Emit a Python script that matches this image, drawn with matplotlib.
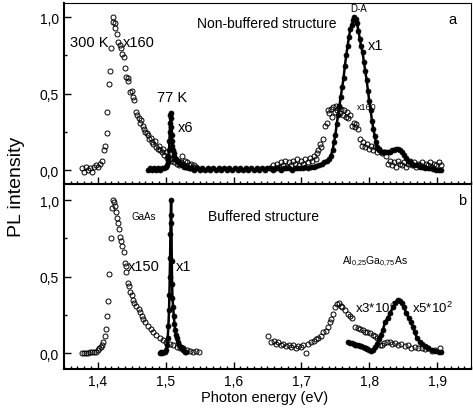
import matplotlib
matplotlib.use('Agg')
import matplotlib.pyplot as plt
from matplotlib.ticker import MultipleLocator, FuncFormatter

plt.rcParams['font.family'] = ['Liberation Sans', 'DejaVu Sans']
plt.rcParams['mathtext.default'] = 'regular'

# ---- panel a: non-buffered structure ----
# 300 K, GaAs band edge (x160), open circles
a300_E = [1.376, 1.379, 1.382, 1.385, 1.388, 1.391, 1.394, 1.397, 1.400, 1.403,
          1.406, 1.409, 1.410, 1.413, 1.414, 1.416, 1.418, 1.419, 1.422, 1.423,
          1.425, 1.426, 1.428, 1.430, 1.432, 1.434, 1.436, 1.438, 1.440, 1.442,
          1.444, 1.445, 1.448, 1.450, 1.452, 1.454, 1.456, 1.458, 1.460, 1.462,
          1.464, 1.466, 1.468, 1.470, 1.472, 1.474, 1.476, 1.478, 1.480, 1.482,
          1.484, 1.486, 1.488, 1.490, 1.492, 1.494, 1.496, 1.498, 1.500, 1.502,
          1.504, 1.506, 1.508, 1.510, 1.512, 1.514, 1.516, 1.518, 1.520, 1.522,
          1.524, 1.526, 1.528, 1.530, 1.532, 1.534, 1.536, 1.538, 1.540, 1.542,
          1.545]
a300_I = [0.01, -0.01, 0.02, 0.00, 0.01, -0.01, 0.02, 0.03, 0.02, 0.04,
          0.06, 0.13, 0.16, 0.24, 0.38, 0.56, 0.65, 0.80, 0.97, 1.00,
          0.96, 0.93, 0.89, 0.84, 0.82, 0.80, 0.76, 0.74, 0.67, 0.61,
          0.58, 0.60, 0.51, 0.52, 0.48, 0.46, 0.38, 0.36, 0.34, 0.31,
          0.33, 0.29, 0.27, 0.25, 0.24, 0.23, 0.20, 0.21, 0.18, 0.17,
          0.19, 0.15, 0.14, 0.16, 0.13, 0.12, 0.14, 0.10, 0.12, 0.08,
          0.09, 0.07, 0.06, 0.08, 0.05, 0.07, 0.04, 0.06, 0.03, 0.05,
          0.09, 0.04, 0.06, 0.02, 0.05, 0.03, 0.01, 0.04, 0.02, 0.03,
          0.02]

# 77 K, GaAs (x6) and D-A band (x1), filled dots
a77_E = [1.474, 1.477, 1.480, 1.483, 1.486, 1.489, 1.492, 1.495, 1.498, 1.500,
         1.502, 1.503, 1.504, 1.505, 1.5055, 1.506, 1.5065, 1.507, 1.5075, 1.508,
         1.5085, 1.509, 1.5095, 1.510, 1.511, 1.512, 1.513, 1.515, 1.517, 1.519,
         1.521, 1.524, 1.527, 1.530, 1.534, 1.538, 1.542, 1.546, 1.550, 1.554,
         1.558, 1.562, 1.566, 1.570, 1.574, 1.578, 1.582, 1.586, 1.590, 1.594,
         1.598, 1.602, 1.606, 1.610, 1.614, 1.618, 1.622, 1.626, 1.630, 1.634,
         1.638, 1.642, 1.646, 1.650, 1.654, 1.658, 1.662, 1.666, 1.670, 1.674,
         1.678, 1.682, 1.686, 1.690, 1.694, 1.698, 1.702, 1.706, 1.710, 1.714,
         1.718, 1.722, 1.726, 1.730, 1.734, 1.738, 1.741, 1.743, 1.746, 1.748,
         1.750, 1.752, 1.754, 1.756, 1.758, 1.760, 1.762, 1.764, 1.766, 1.768,
         1.770, 1.772, 1.774, 1.776, 1.778, 1.780, 1.782, 1.784, 1.786, 1.788,
         1.790, 1.792, 1.794, 1.796, 1.798, 1.800, 1.802, 1.804, 1.806, 1.808,
         1.810, 1.812, 1.815, 1.818, 1.821, 1.824, 1.827, 1.830, 1.833, 1.836,
         1.839, 1.842, 1.845, 1.848, 1.851, 1.854, 1.857, 1.860, 1.863, 1.866,
         1.870, 1.874, 1.878, 1.882, 1.886, 1.890, 1.894, 1.898, 1.902, 1.906]
a77_I = [0.00, 0.01, 0.00, 0.01, 0.00, 0.01, 0.00, 0.01, 0.01, 0.02,
         0.03, 0.05, 0.08, 0.13, 0.19, 0.25, 0.31, 0.36, 0.37, 0.34,
         0.28, 0.23, 0.19, 0.16, 0.13, 0.11, 0.09, 0.07, 0.06, 0.05,
         0.04, 0.03, 0.02, 0.02, 0.01, 0.01, 0.00, 0.01, 0.00, 0.01,
         0.00, 0.01, 0.00, 0.01, 0.00, 0.01, 0.00, 0.01, 0.00, 0.01,
         0.00, 0.01, 0.00, 0.01, 0.00, 0.01, 0.00, 0.01, 0.00, 0.01,
         0.00, 0.01, 0.00, 0.01, 0.01, 0.00, 0.01, 0.01, 0.00, 0.01,
         0.01, 0.01, 0.00, 0.01, 0.01, 0.01, 0.01, 0.02, 0.015, 0.02,
         0.02, 0.025, 0.03, 0.04, 0.05, 0.06, 0.07, 0.09, 0.13, 0.18,
         0.23, 0.30, 0.36, 0.42, 0.48, 0.54, 0.60, 0.68, 0.75, 0.81,
         0.87, 0.92, 0.95, 0.98, 1.00, 0.99, 0.96, 0.91, 0.86, 0.81,
         0.77, 0.71, 0.65, 0.59, 0.52, 0.45, 0.39, 0.32, 0.27, 0.22,
         0.18, 0.15, 0.13, 0.12, 0.12, 0.12, 0.12, 0.12, 0.13, 0.13,
         0.14, 0.14, 0.13, 0.12, 0.10, 0.08, 0.06, 0.05, 0.04, 0.03,
         0.03, 0.02, 0.02, 0.01, 0.01, 0.01, 0.005, 0.00, 0.00, 0.00]

# 300 K, D-A region (x160), open circles
aDA_E = [1.654, 1.658, 1.661, 1.664, 1.667, 1.670, 1.673, 1.676, 1.679, 1.682,
         1.685, 1.688, 1.691, 1.694, 1.697, 1.700, 1.703, 1.706, 1.709, 1.712,
         1.715, 1.718, 1.721, 1.723, 1.725, 1.727, 1.729, 1.732, 1.735, 1.737,
         1.739, 1.741, 1.743, 1.745, 1.747, 1.749, 1.751, 1.753, 1.755, 1.757,
         1.759, 1.761, 1.763, 1.765, 1.767, 1.769, 1.771, 1.774, 1.777, 1.779,
         1.781, 1.784, 1.786, 1.789, 1.791, 1.794, 1.797, 1.800, 1.803, 1.806,
         1.809, 1.812, 1.815, 1.818, 1.821, 1.824, 1.827, 1.830, 1.833, 1.836,
         1.839, 1.842, 1.845, 1.848, 1.851, 1.854, 1.857, 1.860, 1.863, 1.866,
         1.869, 1.872, 1.875, 1.878, 1.881, 1.884, 1.887, 1.890, 1.893, 1.896,
         1.899, 1.902, 1.905]
aDA_I = [0.01, 0.03, 0.01, 0.04, 0.02, 0.05, 0.03, 0.06, 0.02, 0.05,
         0.03, 0.06, 0.04, 0.07, 0.03, 0.06, 0.04, 0.07, 0.05, 0.08,
         0.06, 0.09, 0.07, 0.11, 0.13, 0.17, 0.15, 0.20, 0.29, 0.31,
         0.39, 0.37, 0.40, 0.35, 0.41, 0.38, 0.42, 0.39, 0.41, 0.37,
         0.40, 0.36, 0.39, 0.35, 0.38, 0.34, 0.36, 0.29, 0.31, 0.28,
         0.30, 0.27, 0.20, 0.16, 0.18, 0.15, 0.17, 0.14, 0.16, 0.13,
         0.15, 0.12, 0.14, 0.11, 0.12, 0.09, 0.04, 0.06, 0.03, 0.05,
         0.02, 0.06, 0.04, 0.03, 0.05, 0.02, 0.04, 0.06, 0.03, 0.05,
         0.02, 0.04, 0.03, 0.05, 0.02, 0.04, 0.03, 0.05, 0.02, 0.04,
         0.03, 0.05, 0.03]

# ---- panel b: buffered structure ----
# GaAs x150, open circles
bG_E = [1.376, 1.379, 1.382, 1.385, 1.388, 1.391, 1.394, 1.397, 1.400, 1.402,
        1.404, 1.406, 1.408, 1.410, 1.412, 1.413, 1.415, 1.417, 1.419, 1.421,
        1.423, 1.424, 1.425, 1.427, 1.428, 1.430, 1.431, 1.433, 1.434, 1.436,
        1.438, 1.440, 1.441, 1.442, 1.444, 1.446, 1.448, 1.450, 1.452, 1.454,
        1.457, 1.460, 1.462, 1.465, 1.467, 1.470, 1.474, 1.478, 1.482, 1.486,
        1.491, 1.496, 1.501, 1.506, 1.511, 1.516, 1.521, 1.526, 1.531, 1.536,
        1.541, 1.545, 1.549]
bG_I = [0.00, 0.00, 0.00, 0.00, 0.005, 0.005, 0.01, 0.01, 0.02, 0.03,
        0.04, 0.05, 0.07, 0.11, 0.16, 0.24, 0.34, 0.52, 0.75, 0.95,
        1.00, 0.99, 0.96, 0.92, 0.88, 0.85, 0.81, 0.76, 0.73, 0.70,
        0.66, 0.59, 0.57, 0.53, 0.46, 0.44, 0.40, 0.38, 0.35, 0.33,
        0.31, 0.29, 0.27, 0.24, 0.22, 0.20, 0.18, 0.16, 0.14, 0.12,
        0.10, 0.085, 0.07, 0.06, 0.05, 0.04, 0.035, 0.03, 0.02, 0.015,
        0.01, 0.015, 0.01]

# GaAs x1, filled dots
bX_E = [1.491, 1.493, 1.495, 1.497, 1.499, 1.501, 1.502, 1.503, 1.504, 1.505,
        1.5055, 1.506, 1.5065, 1.507, 1.5075, 1.508, 1.5085, 1.509, 1.5095, 1.510,
        1.511, 1.512, 1.513, 1.514, 1.515, 1.516, 1.518, 1.520, 1.522, 1.524,
        1.526, 1.528, 1.530]
bX_I = [0.00, 0.01, 0.00, 0.01, 0.01, 0.02, 0.05, 0.10, 0.18, 0.28,
        0.38, 0.50, 0.62, 0.78, 0.90, 1.00, 0.85, 0.60, 0.45, 0.36,
        0.30, 0.24, 0.19, 0.15, 0.12, 0.10, 0.07, 0.05, 0.04, 0.03,
        0.02, 0.01, 0.01]

# Al0.25Ga0.75As x3*10^4, open circles
bA_E = [1.651, 1.655, 1.659, 1.663, 1.666, 1.670, 1.673, 1.677, 1.681, 1.684,
        1.688, 1.692, 1.695, 1.699, 1.703, 1.707, 1.710, 1.714, 1.718, 1.721,
        1.725, 1.729, 1.732, 1.736, 1.739, 1.742, 1.744, 1.746, 1.749, 1.752,
        1.756, 1.758, 1.760, 1.764, 1.768, 1.771, 1.775, 1.779, 1.783, 1.787,
        1.790, 1.794, 1.797, 1.801, 1.805, 1.808, 1.812, 1.816, 1.819, 1.822,
        1.826, 1.830, 1.834, 1.838, 1.843, 1.847, 1.852, 1.857, 1.862, 1.867,
        1.872, 1.877, 1.882, 1.887, 1.892, 1.897, 1.904]
bA_I = [0.11, 0.07, 0.08, 0.06, 0.07, 0.05, 0.06, 0.045, 0.05, 0.04,
        0.05, 0.03, 0.045, 0.04, 0.05, 0.00, 0.06, 0.07, 0.08, 0.09,
        0.10, 0.11, 0.135, 0.145, 0.17, 0.20, 0.22, 0.255, 0.30, 0.32,
        0.33, 0.31, 0.30, 0.28, 0.255, 0.245, 0.23, 0.17, 0.165, 0.155,
        0.15, 0.14, 0.135, 0.13, 0.12, 0.11, 0.10, 0.05, 0.055, 0.065,
        0.075, 0.07, 0.06, 0.065, 0.055, 0.06, 0.045, 0.05, 0.035, 0.04,
        0.03, 0.035, 0.025, 0.03, 0.015, 0.02, 0.03]

# Al0.25Ga0.75As x5*10^2, filled dots
bB_E = [1.769, 1.772, 1.775, 1.777, 1.779, 1.781, 1.784, 1.786, 1.788, 1.791,
        1.793, 1.795, 1.797, 1.799, 1.802, 1.805, 1.808, 1.811, 1.814, 1.817,
        1.820, 1.823, 1.827, 1.831, 1.835, 1.838, 1.842, 1.845, 1.848, 1.851,
        1.854, 1.858, 1.861, 1.864, 1.867, 1.870, 1.874, 1.878, 1.882, 1.887,
        1.892, 1.897, 1.902, 1.905]
bB_I = [0.07, 0.065, 0.065, 0.06, 0.055, 0.05, 0.05, 0.045, 0.045, 0.04,
        0.035, 0.03, 0.025, 0.02, 0.015, 0.02, 0.037, 0.06, 0.09, 0.12,
        0.15, 0.20, 0.23, 0.265, 0.30, 0.33, 0.35, 0.34, 0.33, 0.30,
        0.265, 0.23, 0.20, 0.17, 0.135, 0.10, 0.075, 0.06, 0.045, 0.03,
        0.02, 0.015, 0.01, 0.005]

open_kw = dict(ls='none', marker='o', ms=3.6, mfc='none', mec='black', mew=0.7)
fill_kw = dict(ls='-', lw=1.8, color='black', marker='o', ms=3.6,
               mfc='black', mec='black', mew=0.5)

fig = plt.figure(figsize=(4.73, 4.14), dpi=100)
ax_a = fig.add_axes([0.135, 0.553, 0.861, 0.437])
ax_b = fig.add_axes([0.135, 0.106, 0.861, 0.447])

ax_a.plot(a300_E, a300_I, **open_kw)
ax_a.plot(aDA_E, aDA_I, **open_kw)
ax_a.plot(a77_E, a77_I, **fill_kw)

ax_b.plot(bG_E, bG_I, **open_kw)
ax_b.plot(bA_E, bA_I, **open_kw)
ax_b.plot(bX_E, bX_I, **fill_kw)
ax_b.plot(bB_E, bB_I, **fill_kw)

comma = FuncFormatter(lambda v, p: f'{v:.1f}'.replace('.', ','))
for ax in (ax_a, ax_b):
    ax.set_xlim(1.35, 1.95)
    ax.xaxis.set_major_locator(MultipleLocator(0.1))
    ax.xaxis.set_minor_locator(MultipleLocator(0.01))
    ax.yaxis.set_major_locator(MultipleLocator(0.5))
    ax.yaxis.set_minor_locator(MultipleLocator(0.25))
    ax.xaxis.set_major_formatter(comma)
    ax.yaxis.set_major_formatter(comma)
    ax.tick_params(which='both', direction='in', top=False, right=False,
                   labelsize=10, width=1.0)
    ax.tick_params(which='major', length=5)
    ax.tick_params(which='minor', length=2.5)
    ax.spines['left'].set_linewidth(1.5)
    ax.spines['bottom'].set_linewidth(1.5)
    ax.spines['top'].set_linewidth(0.8)
    ax.spines['right'].set_linewidth(0.8)

ax_a.set_ylim(-0.092, 1.092)
ax_b.set_ylim(-0.105, 1.105)
ax_a.tick_params(labelbottom=False)

# panel a labels
ax_a.text(1.546, 0.96, 'Non-buffered structure', fontsize=10, va='center')
ax_a.text(1.359, 0.837, '300 K', fontsize=10.5, va='center')
ax_a.text(1.437, 0.837, 'x160', fontsize=10.5, va='center')
ax_a.text(1.487, 0.477, '77 K', fontsize=10.5, va='center')
ax_a.text(1.518, 0.281, 'x6', fontsize=10.5, va='center')
ax_a.text(1.7717, 1.059, 'D-A', fontsize=7, va='center')
ax_a.text(1.798, 0.82, 'x1', fontsize=10.5, va='center')
ax_a.text(1.782, 0.418, 'x160', fontsize=6.5, va='center')
ax_a.text(1.916, 0.987, 'a', fontsize=10.5, va='center')

# panel b labels
ax_b.text(1.450, 0.895, 'GaAs', fontsize=7, va='center')
ax_b.text(1.562, 0.895, 'Buffered structure', fontsize=10, va='center')
ax_b.text(1.444, 0.569, 'x150', fontsize=10.5, va='center')
ax_b.text(1.515, 0.569, 'x1', fontsize=10.5, va='center')
ax_b.text(1.760, 0.60, r'Al$_{0{,}25}$Ga$_{0{,}75}$As', fontsize=7.5, va='center')
ax_b.text(1.779, 0.30, r'x3*10$^4$', fontsize=9.5, va='center')
ax_b.text(1.863, 0.30, r'x5*10$^2$', fontsize=9.5, va='center')
ax_b.text(1.931, 1.0, 'b', fontsize=10.5, va='center')

fig.text(0.56, 0.039, 'Photon energy (eV)', fontsize=10.5, ha='center', va='center')
fig.text(0.034, 0.548, 'PL intensity', fontsize=14, rotation=90,
         ha='center', va='center')

fig.savefig('out.png', dpi=100)
